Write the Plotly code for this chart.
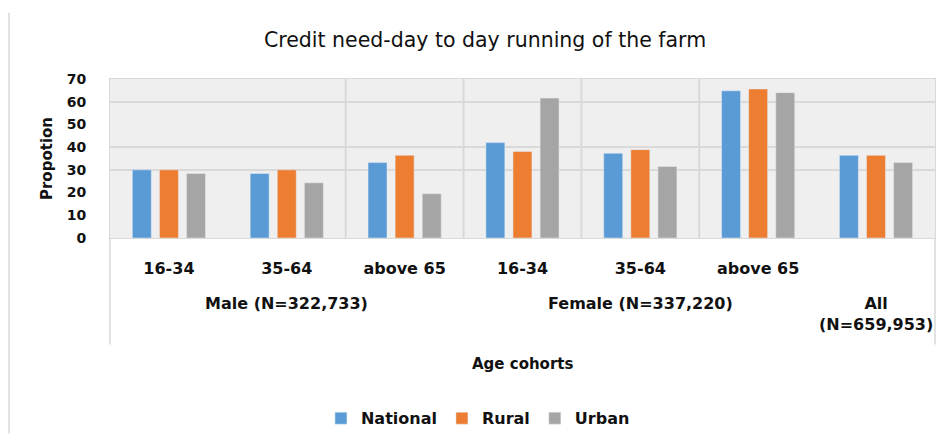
import plotly.graph_objects as go

# chart values
sexes = ["Male", "Male", "Male", "Female", "Female", "Female", "All"]
cohorts = ["16-34", "35-64", "above 65", "16-34", "35-64", "above 65", ""]
group_labels = ["Male (N=322,733)", "Female (N=337,220)", "All<br>(N=659,953)"]

national = [30.0, 28.4, 33.2, 42.0, 37.3, 64.8, 36.4]
rural = [30.0, 30.0, 36.4, 38.1, 38.9, 65.6, 36.4]
urban = [28.4, 24.3, 19.5, 61.6, 31.5, 64.0, 33.2]

y_ticks = [0, 10, 20, 30, 40, 50, 60, 70]
y_grid = [30, 40, 60, 70]

# unique category keys, shown with the cohort names only
keys = [s + " " + c for s, c in zip(sexes, cohorts)]
group_at = [keys[1], keys[4], keys[6]]

FONT = "DejaVu Sans"
GRID = "#d9d9d9"
TXT = "#111111"
BOLD = dict(family=FONT, size=16, color=TXT, weight="bold")

fig = go.Figure()
for name, vals, col in [("National", national, "#5B9BD5"),
                        ("Rural", rural, "#ED7D31"),
                        ("Urban", urban, "#A5A5A5")]:
    fig.add_trace(go.Bar(name=name, x=keys, y=vals, marker_color=col))

# the page body adds an 8px margin, so the figure is 8px smaller
fig.update_layout(
    width=939, height=440,
    margin=dict(l=102, r=12, t=71, b=203),
    paper_bgcolor="white",
    plot_bgcolor="#efefef",
    font=BOLD,
    title=dict(text="Credit need-day to day running of the farm",
               x=0.508, xanchor="center", y=0.927, yanchor="middle",
               font=dict(family=FONT, size=20.5, color=TXT, weight="normal")),
    barmode="group", bargap=0.31, bargroupgap=0.3,
    legend=dict(orientation="h", x=0.446, xanchor="center",
                y=-1.134, yanchor="middle",
                font=dict(family=FONT, size=16, color=TXT, weight="bold"),
                itemwidth=30, traceorder="normal"),
)

fig.update_xaxes(
    tickvals=keys, ticktext=cohorts, showgrid=False,
    showline=True, linecolor=GRID, mirror=True,
    ticklabelstandoff=16, automargin=False, tickfont=BOLD,
)
fig.update_yaxes(
    range=[0, 70], tickvals=y_ticks, showgrid=False,
    showline=True, linecolor=GRID, mirror=True,
    ticklabelstandoff=20, zeroline=False, automargin=False,
    tickfont=dict(family=FONT, size=14, color=TXT, weight="bold"),
    minor=dict(tickmode="array", tickvals=y_grid, showgrid=True,
               gridcolor=GRID, gridwidth=2),
    title=dict(text="Propotion", standoff=10,
               font=dict(family=FONT, size=15, color=TXT, weight="bold")),
)

# separators between cohort columns, as in the original
for i in [1, 2, 3, 4]:
    fig.add_shape(type="line", xref="x", yref="y", x0=i + 0.5, x1=i + 0.5,
                  y0=0, y1=70, line=dict(color=GRID, width=2), layer="below")
# outer dividers running down through the label area
for xd in [0, 1]:
    fig.add_shape(type="line", xref="x domain", yref="paper", x0=xd, x1=xd,
                  y0=0, y1=-0.67, line=dict(color=GRID, width=1.5))
# chart frame on the left
fig.add_shape(type="line", xref="paper", yref="paper", x0=-0.1224, x1=-0.1224,
              y0=1.416, y1=-1.23, line=dict(color=GRID, width=1.5))

for k, lab in zip(group_at, group_labels):
    fig.add_annotation(x=k, xref="x", y=-0.342, yref="paper", yanchor="top",
                       text=lab, showarrow=False, font=BOLD)

fig.add_annotation(x=0.5, xref="paper", y=-0.79, yref="paper",
                   yanchor="middle", text="Age cohorts", showarrow=False,
                   font=dict(family=FONT, size=15, color=TXT, weight="bold"))

fig.write_html("out.html")
